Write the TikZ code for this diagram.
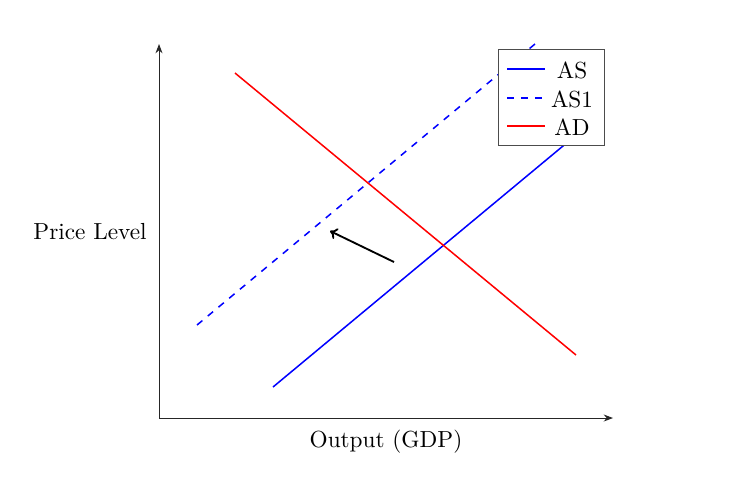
\documentclass[tikz,border=0pt]{standalone}
\usetikzlibrary{arrows.meta}
\tikzset{
  axisline/.style={draw=black!85, line width=0.4pt, -{Stealth[length=4pt,width=3pt]}},
  curve/.style={line width=0.65pt},
  shiftarrow/.style={line width=0.8pt, -{To[length=3pt,width=5pt]}},
  legendbox/.style={draw=black!70, fill=white, line width=0.45pt},
  legtext/.style={anchor=center, inner sep=0pt},
}
\begin{document}
\begin{tikzpicture}[x=0.43pt,y=-0.43pt]
\useasboundingbox (0,0) rectangle (748,486);
% axes
\coordinate (O) at (159,418);
\coordinate (ytop) at (159,44);
\coordinate (xend) at (613,418);
\draw[axisline] (O) -- (ytop);
\draw[axisline] (O) -- (xend);
% curves
\coordinate (as1a) at (197,325);
\coordinate (as1b) at (535,44);
\coordinate (asa) at (273,387);
\coordinate (asb) at (595,119.4);
\coordinate (ada) at (235,73);
\coordinate (adb) at (576,355);
\draw[curve, blue, dashed] (as1a) -- (as1b);
\draw[curve, blue] (asa) -- (asb);
\draw[curve, red] (ada) -- (adb);
% shift arrow
\coordinate (arrs) at (394,262);
\coordinate (arre) at (330,231);
\draw[shiftarrow] (arrs) -- (arre);
% labels
\node (ylab) at (90,232) {Price Level};
\node (xlab) at (386,442) {Output (GDP)};
% legend
\node[legendbox, minimum width=106*0.43pt, minimum height=96*0.43pt, anchor=north west, inner sep=0pt] (leg) at (498,49) {};
\coordinate (l1a) at (507,69); \coordinate (l1b) at (545,69);
\coordinate (l2a) at (507,98); \coordinate (l2b) at (545,98);
\coordinate (l3a) at (507,126); \coordinate (l3b) at (545,126);
\draw[curve, blue] (l1a) -- (l1b);
\draw[curve, blue, dashed] (l2a) -- (l2b);
\draw[curve, red] (l3a) -- (l3b);
\node[legtext] (t1) at (572,70) {AS};
\node[legtext] (t2) at (572,99) {AS1};
\node[legtext] (t3) at (572,127) {AD};
\end{tikzpicture}
\end{document}
